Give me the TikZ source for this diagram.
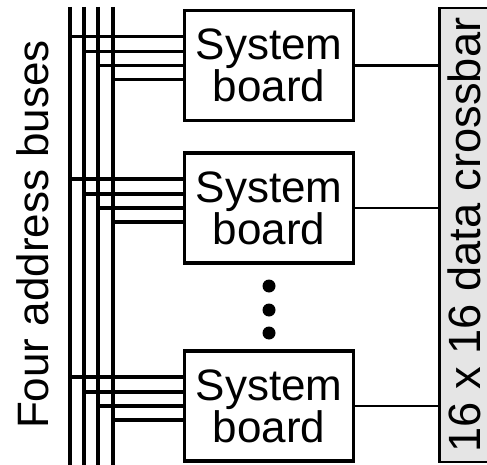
\documentclass[tikz,border=0pt]{standalone}
\usepackage{fontspec}
\setmainfont{Liberation Sans}
\usepackage{tikz}
\usetikzlibrary{positioning, calc}

\begin{document}
\begin{tikzpicture}[x=0.5pt, y=-0.5pt,
  txt/.style={font=\fontsize{22}{21}\selectfont},
  board/.style={txt, draw, line width=1.7pt, align=center, inner sep=0pt,
    minimum width=84.5pt, minimum height=55pt},
  xbar/.style={font=\fontsize{22.6}{21}\selectfont, draw, fill=gray!20, line width=1.3pt,
    rotate=90, inner sep=0pt, minimum width=227pt, minimum height=24.5pt},
  bus/.style={line width=1.8pt},
  tap/.style={line width=1.7pt},
  link/.style={line width=1.1pt},
  dot/.style={circle, fill, inner sep=0pt, minimum size=6.5pt}]
  \clip (0,0) rectangle (487,465);
  % Address buses
  \foreach \x [count=\j] in {70, 84, 98, 113}
    \coordinate (bus\j) at (\x, 7);
  \draw[bus, line width=2.3pt] (bus1) -- ++(0,460);
  \foreach \j in {2,3,4}
    \draw[bus] (bus\j) -- ++(0,460);
  \node[txt, rotate=90, anchor=base] (buslabel) at (48, 234.5) {Four address buses};
  % System boards
  \node[board] (sb1) at (269, 65.5) {System\\board};
  \node[board] (sb2) at (269, 208) {System\\board};
  \node[board] (sb3) at (269, 406) {System\\board};
  \foreach \y [count=\k] in {286, 310, 333}
    \node[dot] (dot\k) at (269, \y) {};
  % Crossbar
  \node[xbar] (xbar) at (464, 235) {16 x 16 data crossbar};
  % Taps and links
  \foreach \i in {1,2,3} {
    \foreach \off [count=\j] in {-29, -14, 0, 14}
      \draw[tap] (sb\i.west) ++(0,\off) coordinate (tp) -- (tp -| bus\j);
    \draw[link] (sb\i.east) -- (sb\i.east -| xbar.north);
  }
\end{tikzpicture}
\end{document}
